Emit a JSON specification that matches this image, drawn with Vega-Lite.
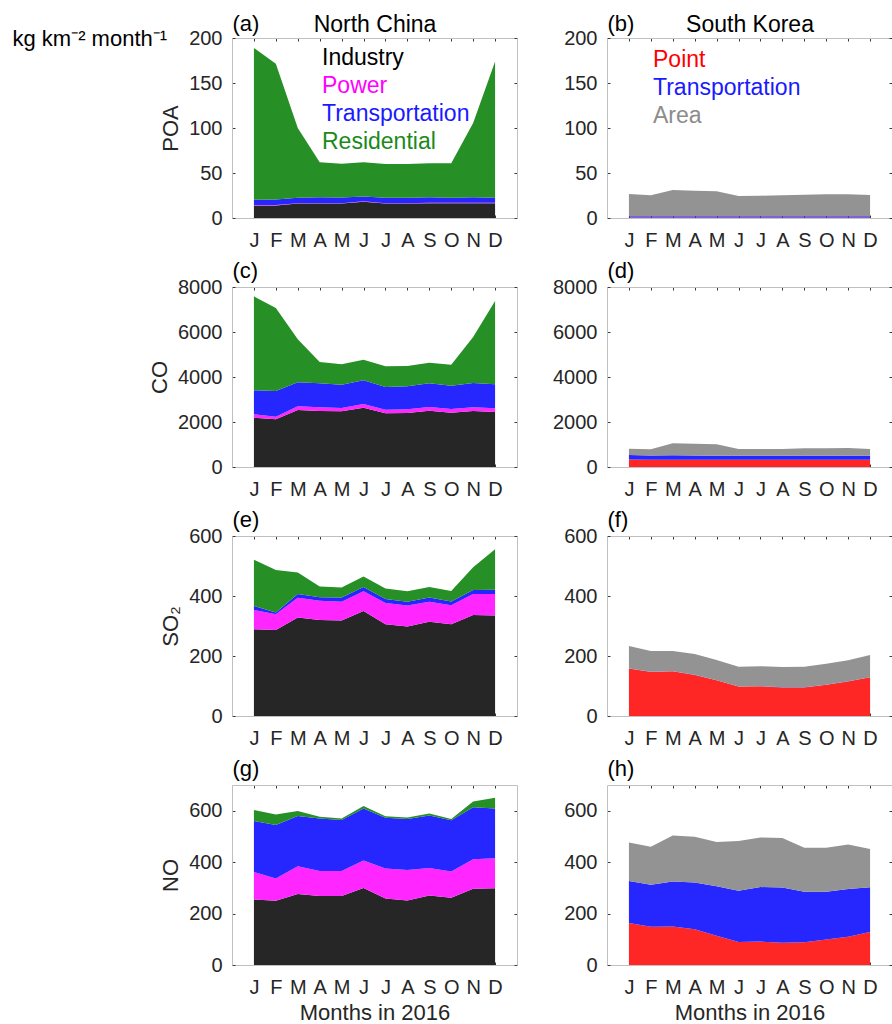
{
"$schema":"https://vega.github.io/schema/vega-lite/v6.json",
"padding":{"left":12,"top":12,"right":0,"bottom":0},
"background":"white",
"columns":2,
"spacing":{"row":69,"column":90},
"bounds":"flush",
"resolve":{"scale":{"x":"independent","y":"independent","color":"independent"},"legend":{"color":"independent"}},
"datasets":{
"ncPOA":[
{"c":"Industry","m":1,"v":14},{"c":"Industry","m":2,"v":14},{"c":"Industry","m":3,"v":16},{"c":"Industry","m":4,"v":16},{"c":"Industry","m":5,"v":16},{"c":"Industry","m":6,"v":18},{"c":"Industry","m":7,"v":16},{"c":"Industry","m":8,"v":16},{"c":"Industry","m":9,"v":16.5},{"c":"Industry","m":10,"v":16.5},{"c":"Industry","m":11,"v":16.5},{"c":"Industry","m":12,"v":16.5},
{"c":"Power","m":1,"v":0.5},{"c":"Power","m":2,"v":0.5},{"c":"Power","m":3,"v":0.5},{"c":"Power","m":4,"v":0.5},{"c":"Power","m":5,"v":0.5},{"c":"Power","m":6,"v":0.5},{"c":"Power","m":7,"v":0.5},{"c":"Power","m":8,"v":0.5},{"c":"Power","m":9,"v":0.5},{"c":"Power","m":10,"v":0.5},{"c":"Power","m":11,"v":0.5},{"c":"Power","m":12,"v":0.5},
{"c":"Transportation","m":1,"v":5.9},{"c":"Transportation","m":2,"v":6},{"c":"Transportation","m":3,"v":6.1},{"c":"Transportation","m":4,"v":6.5},{"c":"Transportation","m":5,"v":6.3},{"c":"Transportation","m":6,"v":5.5},{"c":"Transportation","m":7,"v":6.1},{"c":"Transportation","m":8,"v":6.1},{"c":"Transportation","m":9,"v":6},{"c":"Transportation","m":10,"v":5.6},{"c":"Transportation","m":11,"v":6},{"c":"Transportation","m":12,"v":5.5},
{"c":"Residential","m":1,"v":168.6},{"c":"Residential","m":2,"v":151},{"c":"Residential","m":3,"v":77.4},{"c":"Residential","m":4,"v":39},{"c":"Residential","m":5,"v":37.6},{"c":"Residential","m":6,"v":38},{"c":"Residential","m":7,"v":37.4},{"c":"Residential","m":8,"v":37.4},{"c":"Residential","m":9,"v":37.7},{"c":"Residential","m":10,"v":38.1},{"c":"Residential","m":11,"v":82.5},{"c":"Residential","m":12,"v":151.5}
],
"skPOA":[
{"c":"Point","m":1,"v":0.6},{"c":"Point","m":2,"v":0.6},{"c":"Point","m":3,"v":0.6},{"c":"Point","m":4,"v":0.6},{"c":"Point","m":5,"v":0.6},{"c":"Point","m":6,"v":0.6},{"c":"Point","m":7,"v":0.6},{"c":"Point","m":8,"v":0.6},{"c":"Point","m":9,"v":0.6},{"c":"Point","m":10,"v":0.6},{"c":"Point","m":11,"v":0.6},{"c":"Point","m":12,"v":0.6},
{"c":"Transportation","m":1,"v":1.4},{"c":"Transportation","m":2,"v":1.4},{"c":"Transportation","m":3,"v":1.4},{"c":"Transportation","m":4,"v":1.4},{"c":"Transportation","m":5,"v":1.4},{"c":"Transportation","m":6,"v":1.4},{"c":"Transportation","m":7,"v":1.4},{"c":"Transportation","m":8,"v":1.4},{"c":"Transportation","m":9,"v":1.4},{"c":"Transportation","m":10,"v":1.4},{"c":"Transportation","m":11,"v":1.4},{"c":"Transportation","m":12,"v":1.4},
{"c":"Area","m":1,"v":24.7},{"c":"Area","m":2,"v":23.2},{"c":"Area","m":3,"v":29.1},{"c":"Area","m":4,"v":28.4},{"c":"Area","m":5,"v":27.6},{"c":"Area","m":6,"v":22.4},{"c":"Area","m":7,"v":22.8},{"c":"Area","m":8,"v":23.2},{"c":"Area","m":9,"v":23.9},{"c":"Area","m":10,"v":24.3},{"c":"Area","m":11,"v":24.3},{"c":"Area","m":12,"v":23.6}
],
"ncCO":[
{"c":"Industry","m":1,"v":2193},{"c":"Industry","m":2,"v":2119},{"c":"Industry","m":3,"v":2533},{"c":"Industry","m":4,"v":2489},{"c":"Industry","m":5,"v":2474},{"c":"Industry","m":6,"v":2637},{"c":"Industry","m":7,"v":2385},{"c":"Industry","m":8,"v":2400},{"c":"Industry","m":9,"v":2504},{"c":"Industry","m":10,"v":2415},{"c":"Industry","m":11,"v":2489},{"c":"Industry","m":12,"v":2444},
{"c":"Power","m":1,"v":148},{"c":"Power","m":2,"v":110},{"c":"Power","m":3,"v":163},{"c":"Power","m":4,"v":163},{"c":"Power","m":5,"v":148},{"c":"Power","m":6,"v":163},{"c":"Power","m":7,"v":163},{"c":"Power","m":8,"v":163},{"c":"Power","m":9,"v":163},{"c":"Power","m":10,"v":163},{"c":"Power","m":11,"v":163},{"c":"Power","m":12,"v":163},
{"c":"Transportation","m":1,"v":1066},{"c":"Transportation","m":2,"v":1149},{"c":"Transportation","m":3,"v":1067},{"c":"Transportation","m":4,"v":1067},{"c":"Transportation","m":5,"v":1037},{"c":"Transportation","m":6,"v":1052},{"c":"Transportation","m":7,"v":1008},{"c":"Transportation","m":8,"v":1022},{"c":"Transportation","m":9,"v":1052},{"c":"Transportation","m":10,"v":1037},{"c":"Transportation","m":11,"v":1081},{"c":"Transportation","m":12,"v":1067},
{"c":"Residential","m":1,"v":4178},{"c":"Residential","m":2,"v":3689},{"c":"Residential","m":3,"v":1911},{"c":"Residential","m":4,"v":948},{"c":"Residential","m":5,"v":904},{"c":"Residential","m":6,"v":918},{"c":"Residential","m":7,"v":918},{"c":"Residential","m":8,"v":904},{"c":"Residential","m":9,"v":918},{"c":"Residential","m":10,"v":933},{"c":"Residential","m":11,"v":2045},{"c":"Residential","m":12,"v":3704}
],
"skCO":[
{"c":"Point","m":1,"v":330},{"c":"Point","m":2,"v":325},{"c":"Point","m":3,"v":325},{"c":"Point","m":4,"v":320},{"c":"Point","m":5,"v":320},{"c":"Point","m":6,"v":320},{"c":"Point","m":7,"v":320},{"c":"Point","m":8,"v":320},{"c":"Point","m":9,"v":320},{"c":"Point","m":10,"v":320},{"c":"Point","m":11,"v":320},{"c":"Point","m":12,"v":320},
{"c":"Transportation","m":1,"v":200},{"c":"Transportation","m":2,"v":190},{"c":"Transportation","m":3,"v":195},{"c":"Transportation","m":4,"v":190},{"c":"Transportation","m":5,"v":185},{"c":"Transportation","m":6,"v":180},{"c":"Transportation","m":7,"v":180},{"c":"Transportation","m":8,"v":180},{"c":"Transportation","m":9,"v":180},{"c":"Transportation","m":10,"v":180},{"c":"Transportation","m":11,"v":180},{"c":"Transportation","m":12,"v":180},
{"c":"Area","m":1,"v":285},{"c":"Area","m":2,"v":270},{"c":"Area","m":3,"v":532},{"c":"Area","m":4,"v":527},{"c":"Area","m":5,"v":502},{"c":"Area","m":6,"v":300},{"c":"Area","m":7,"v":300},{"c":"Area","m":8,"v":300},{"c":"Area","m":9,"v":330},{"c":"Area","m":10,"v":330},{"c":"Area","m":11,"v":344},{"c":"Area","m":12,"v":300}
],
"ncSO2":[
{"c":"Industry","m":1,"v":289},{"c":"Industry","m":2,"v":287},{"c":"Industry","m":3,"v":328},{"c":"Industry","m":4,"v":320},{"c":"Industry","m":5,"v":318},{"c":"Industry","m":6,"v":350},{"c":"Industry","m":7,"v":306},{"c":"Industry","m":8,"v":298},{"c":"Industry","m":9,"v":314},{"c":"Industry","m":10,"v":306},{"c":"Industry","m":11,"v":337},{"c":"Industry","m":12,"v":335},
{"c":"Power","m":1,"v":64},{"c":"Power","m":2,"v":52},{"c":"Power","m":3,"v":66},{"c":"Power","m":4,"v":64},{"c":"Power","m":5,"v":63},{"c":"Power","m":6,"v":66},{"c":"Power","m":7,"v":71},{"c":"Power","m":8,"v":70},{"c":"Power","m":9,"v":67},{"c":"Power","m":10,"v":63},{"c":"Power","m":11,"v":70},{"c":"Power","m":12,"v":72},
{"c":"Transportation","m":1,"v":14},{"c":"Transportation","m":2,"v":6},{"c":"Transportation","m":3,"v":13},{"c":"Transportation","m":4,"v":12},{"c":"Transportation","m":5,"v":14},{"c":"Transportation","m":6,"v":14},{"c":"Transportation","m":7,"v":13},{"c":"Transportation","m":8,"v":13},{"c":"Transportation","m":9,"v":14},{"c":"Transportation","m":10,"v":13},{"c":"Transportation","m":11,"v":13},{"c":"Transportation","m":12,"v":14},
{"c":"Residential","m":1,"v":154},{"c":"Residential","m":2,"v":142},{"c":"Residential","m":3,"v":71},{"c":"Residential","m":4,"v":36},{"c":"Residential","m":5,"v":33},{"c":"Residential","m":6,"v":35},{"c":"Residential","m":7,"v":35},{"c":"Residential","m":8,"v":35},{"c":"Residential","m":9,"v":35},{"c":"Residential","m":10,"v":35},{"c":"Residential","m":11,"v":76},{"c":"Residential","m":12,"v":135}
],
"skSO2":[
{"c":"Point","m":1,"v":158},{"c":"Point","m":2,"v":147},{"c":"Point","m":3,"v":149},{"c":"Point","m":4,"v":137},{"c":"Point","m":5,"v":119},{"c":"Point","m":6,"v":98},{"c":"Point","m":7,"v":99},{"c":"Point","m":8,"v":95},{"c":"Point","m":9,"v":95},{"c":"Point","m":10,"v":104},{"c":"Point","m":11,"v":115},{"c":"Point","m":12,"v":129},
{"c":"Transportation","m":1,"v":0.5},{"c":"Transportation","m":2,"v":0.5},{"c":"Transportation","m":3,"v":0.5},{"c":"Transportation","m":4,"v":0.5},{"c":"Transportation","m":5,"v":0.5},{"c":"Transportation","m":6,"v":0.5},{"c":"Transportation","m":7,"v":0.5},{"c":"Transportation","m":8,"v":0.5},{"c":"Transportation","m":9,"v":0.5},{"c":"Transportation","m":10,"v":0.5},{"c":"Transportation","m":11,"v":0.5},{"c":"Transportation","m":12,"v":0.5},
{"c":"Area","m":1,"v":74.5},{"c":"Area","m":2,"v":69.5},{"c":"Area","m":3,"v":67.5},{"c":"Area","m":4,"v":69.5},{"c":"Area","m":5,"v":67.5},{"c":"Area","m":6,"v":65.5},{"c":"Area","m":7,"v":66.5},{"c":"Area","m":8,"v":67.5},{"c":"Area","m":9,"v":68.5},{"c":"Area","m":10,"v":69.5},{"c":"Area","m":11,"v":70.5},{"c":"Area","m":12,"v":73.5}
],
"ncNO":[
{"c":"Industry","m":1,"v":255},{"c":"Industry","m":2,"v":250},{"c":"Industry","m":3,"v":276},{"c":"Industry","m":4,"v":268},{"c":"Industry","m":5,"v":268},{"c":"Industry","m":6,"v":299},{"c":"Industry","m":7,"v":259},{"c":"Industry","m":8,"v":251},{"c":"Industry","m":9,"v":270},{"c":"Industry","m":10,"v":262},{"c":"Industry","m":11,"v":297},{"c":"Industry","m":12,"v":298},
{"c":"Power","m":1,"v":107},{"c":"Power","m":2,"v":86},{"c":"Power","m":3,"v":108},{"c":"Power","m":4,"v":98},{"c":"Power","m":5,"v":98},{"c":"Power","m":6,"v":107},{"c":"Power","m":7,"v":116},{"c":"Power","m":8,"v":118},{"c":"Power","m":9,"v":107},{"c":"Power","m":10,"v":102},{"c":"Power","m":11,"v":114},{"c":"Power","m":12,"v":117},
{"c":"Transportation","m":1,"v":198},{"c":"Transportation","m":2,"v":208},{"c":"Transportation","m":3,"v":195},{"c":"Transportation","m":4,"v":204},{"c":"Transportation","m":5,"v":198},{"c":"Transportation","m":6,"v":203},{"c":"Transportation","m":7,"v":198},{"c":"Transportation","m":8,"v":199},{"c":"Transportation","m":9,"v":204},{"c":"Transportation","m":10,"v":199},{"c":"Transportation","m":11,"v":202},{"c":"Transportation","m":12,"v":194},
{"c":"Residential","m":1,"v":43},{"c":"Residential","m":2,"v":41},{"c":"Residential","m":3,"v":20},{"c":"Residential","m":4,"v":7},{"c":"Residential","m":5,"v":6},{"c":"Residential","m":6,"v":9},{"c":"Residential","m":7,"v":5},{"c":"Residential","m":8,"v":6},{"c":"Residential","m":9,"v":8},{"c":"Residential","m":10,"v":5},{"c":"Residential","m":11,"v":23},{"c":"Residential","m":12,"v":41}
],
"skNO":[
{"c":"Point","m":1,"v":163},{"c":"Point","m":2,"v":149},{"c":"Point","m":3,"v":150},{"c":"Point","m":4,"v":139},{"c":"Point","m":5,"v":114},{"c":"Point","m":6,"v":89},{"c":"Point","m":7,"v":91},{"c":"Point","m":8,"v":87},{"c":"Point","m":9,"v":88},{"c":"Point","m":10,"v":99},{"c":"Point","m":11,"v":110},{"c":"Point","m":12,"v":128},
{"c":"Transportation","m":1,"v":164},{"c":"Transportation","m":2,"v":163},{"c":"Transportation","m":3,"v":175},{"c":"Transportation","m":4,"v":182},{"c":"Transportation","m":5,"v":192},{"c":"Transportation","m":6,"v":200},{"c":"Transportation","m":7,"v":212},{"c":"Transportation","m":8,"v":214},{"c":"Transportation","m":9,"v":197},{"c":"Transportation","m":10,"v":186},{"c":"Transportation","m":11,"v":186},{"c":"Transportation","m":12,"v":174},
{"c":"Area","m":1,"v":149},{"c":"Area","m":2,"v":148},{"c":"Area","m":3,"v":179},{"c":"Area","m":4,"v":178},{"c":"Area","m":5,"v":172},{"c":"Area","m":6,"v":193},{"c":"Area","m":7,"v":193},{"c":"Area","m":8,"v":193},{"c":"Area","m":9,"v":171},{"c":"Area","m":10,"v":171},{"c":"Area","m":11,"v":173},{"c":"Area","m":12,"v":149}
]
},
"concat":[
{"width":285,"height":180,"data":{"name":"ncPOA"},
 "transform":[{"calculate":"indexof(['Industry','Power','Transportation','Residential'],datum.c)","as":"o"}],
 "layer":[
  {"mark":{"type":"area","interpolate":"linear"},
   "encoding":{
    "x":{"field":"m","type":"quantitative","scale":{"domain":[0,13],"nice":false,"zero":false},"axis":{"values":[1,2,3,4,5,6,7,8,9,10,11,12],"labelExpr":"['J','F','M','A','M','J','J','A','S','O','N','D'][datum.value-1]","title":"kg km⁻² month⁻¹","titleX":-220,"titleY":-173,"titleAlign":"left","titleBaseline":"alphabetic","titleColor":"#000000","titleFontSize":22}},
    "y":{"field":"v","type":"quantitative","stack":"zero","scale":{"domain":[0,200],"nice":false},"axis":{"values":[0,50,100,150,200],"title":"POA"}},
    "color":{"field":"c","type":"nominal","scale":{"domain":["Industry","Power","Transportation","Residential"],"range":["#262626","#ff26ff","#2626ff","#268f26"]},
      "legend":{"orient":"none","legendX":67,"legendY":8,"title":null,"labelColor":{"expr":"datum.value==='Industry'?'#000000':datum.value==='Power'?'#ff00ff':datum.value==='Transportation'?'#1a1aff':'#1a8a1a'"}}},
    "order":{"field":"o","type":"quantitative","sort":"ascending"}}},
  {"mark":{"type":"point","opacity":0},
   "encoding":{
    "x":{"field":"m","type":"quantitative","scale":{"domain":[0,13],"nice":false,"zero":false},"axis":{"orient":"top","values":[1,2,3,4,5,6,7,8,9,10,11,12],"labels":false,"title":"North China","titleX":142.5,"titleY":-7,"titleAlign":"center","titleBaseline":"alphabetic","titleColor":"#000000","titleFontSize":23}},
    "y":{"field":"v","type":"quantitative","scale":{"domain":[0,200],"nice":false},"axis":{"orient":"right","values":[0,50,100,150,200],"labels":false,"title":"(a)","titleAngle":0,"titleX":-285,"titleY":-8,"titleAlign":"left","titleBaseline":"alphabetic","titleColor":"#000000"}}}}
 ],
 "resolve":{"axis":{"x":"independent","y":"independent"}}},
{"width":285,"height":180,"data":{"name":"skPOA"},
 "transform":[{"calculate":"indexof(['Point','Transportation','Area'],datum.c)","as":"o"}],
 "layer":[
  {"mark":{"type":"area","interpolate":"linear"},
   "encoding":{
    "x":{"field":"m","type":"quantitative","scale":{"domain":[0,13],"nice":false,"zero":false},"axis":{"values":[1,2,3,4,5,6,7,8,9,10,11,12],"labelExpr":"['J','F','M','A','M','J','J','A','S','O','N','D'][datum.value-1]","title":null}},
    "y":{"field":"v","type":"quantitative","stack":"zero","scale":{"domain":[0,200],"nice":false},"axis":{"values":[0,50,100,150,200],"title":null}},
    "color":{"field":"c","type":"nominal","scale":{"domain":["Point","Transportation","Area"],"range":["#ff2626","#2626ff","#939393"]},
      "legend":{"orient":"none","legendX":23,"legendY":10,"title":null,"labelColor":{"expr":"datum.value==='Point'?'#ff0000':datum.value==='Transportation'?'#1a1aff':'#8c8c8c'"}}},
    "order":{"field":"o","type":"quantitative","sort":"ascending"}}},
  {"mark":{"type":"point","opacity":0},
   "encoding":{
    "x":{"field":"m","type":"quantitative","scale":{"domain":[0,13],"nice":false,"zero":false},"axis":{"orient":"top","values":[1,2,3,4,5,6,7,8,9,10,11,12],"labels":false,"title":"South Korea","titleX":142.5,"titleY":-7,"titleAlign":"center","titleBaseline":"alphabetic","titleColor":"#000000","titleFontSize":23}},
    "y":{"field":"v","type":"quantitative","scale":{"domain":[0,200],"nice":false},"axis":{"orient":"right","values":[0,50,100,150,200],"labels":false,"title":"(b)","titleAngle":0,"titleX":-285,"titleY":-8,"titleAlign":"left","titleBaseline":"alphabetic","titleColor":"#000000"}}}}
 ],
 "resolve":{"axis":{"x":"independent","y":"independent"}}},
{"width":285,"height":180,"data":{"name":"ncCO"},
 "transform":[{"calculate":"indexof(['Industry','Power','Transportation','Residential'],datum.c)","as":"o"}],
 "layer":[
  {"mark":{"type":"area","interpolate":"linear"},
   "encoding":{
    "x":{"field":"m","type":"quantitative","scale":{"domain":[0,13],"nice":false,"zero":false},"axis":{"values":[1,2,3,4,5,6,7,8,9,10,11,12],"labelExpr":"['J','F','M','A','M','J','J','A','S','O','N','D'][datum.value-1]","title":null}},
    "y":{"field":"v","type":"quantitative","stack":"zero","scale":{"domain":[0,8000],"nice":false},"axis":{"values":[0,2000,4000,6000,8000],"format":"d","title":"CO"}},
    "color":{"field":"c","type":"nominal","scale":{"domain":["Industry","Power","Transportation","Residential"],"range":["#262626","#ff26ff","#2626ff","#268f26"]},"legend":null},
    "order":{"field":"o","type":"quantitative","sort":"ascending"}}},
  {"mark":{"type":"point","opacity":0},
   "encoding":{
    "x":{"field":"m","type":"quantitative","scale":{"domain":[0,13],"nice":false,"zero":false},"axis":{"orient":"top","values":[1,2,3,4,5,6,7,8,9,10,11,12],"labels":false,"title":null}},
    "y":{"field":"v","type":"quantitative","scale":{"domain":[0,8000],"nice":false},"axis":{"orient":"right","values":[0,2000,4000,6000,8000],"labels":false,"title":"(c)","titleAngle":0,"titleX":-285,"titleY":-10,"titleAlign":"left","titleBaseline":"alphabetic","titleColor":"#000000"}}}}
 ],
 "resolve":{"axis":{"x":"independent","y":"independent"}}},
{"width":285,"height":180,"data":{"name":"skCO"},
 "transform":[{"calculate":"indexof(['Point','Transportation','Area'],datum.c)","as":"o"}],
 "layer":[
  {"mark":{"type":"area","interpolate":"linear"},
   "encoding":{
    "x":{"field":"m","type":"quantitative","scale":{"domain":[0,13],"nice":false,"zero":false},"axis":{"values":[1,2,3,4,5,6,7,8,9,10,11,12],"labelExpr":"['J','F','M','A','M','J','J','A','S','O','N','D'][datum.value-1]","title":null}},
    "y":{"field":"v","type":"quantitative","stack":"zero","scale":{"domain":[0,8000],"nice":false},"axis":{"values":[0,2000,4000,6000,8000],"format":"d","title":null}},
    "color":{"field":"c","type":"nominal","scale":{"domain":["Point","Transportation","Area"],"range":["#ff2626","#2626ff","#939393"]},"legend":null},
    "order":{"field":"o","type":"quantitative","sort":"ascending"}}},
  {"mark":{"type":"point","opacity":0},
   "encoding":{
    "x":{"field":"m","type":"quantitative","scale":{"domain":[0,13],"nice":false,"zero":false},"axis":{"orient":"top","values":[1,2,3,4,5,6,7,8,9,10,11,12],"labels":false,"title":null}},
    "y":{"field":"v","type":"quantitative","scale":{"domain":[0,8000],"nice":false},"axis":{"orient":"right","values":[0,2000,4000,6000,8000],"labels":false,"title":"(d)","titleAngle":0,"titleX":-285,"titleY":-10,"titleAlign":"left","titleBaseline":"alphabetic","titleColor":"#000000"}}}}
 ],
 "resolve":{"axis":{"x":"independent","y":"independent"}}},
{"width":285,"height":180,"data":{"name":"ncSO2"},
 "transform":[{"calculate":"indexof(['Industry','Power','Transportation','Residential'],datum.c)","as":"o"}],
 "layer":[
  {"mark":{"type":"area","interpolate":"linear"},
   "encoding":{
    "x":{"field":"m","type":"quantitative","scale":{"domain":[0,13],"nice":false,"zero":false},"axis":{"values":[1,2,3,4,5,6,7,8,9,10,11,12],"labelExpr":"['J','F','M','A','M','J','J','A','S','O','N','D'][datum.value-1]","title":null}},
    "y":{"field":"v","type":"quantitative","stack":"zero","scale":{"domain":[0,600],"nice":false},"axis":{"values":[0,200,400,600],"title":"SO₂"}},
    "color":{"field":"c","type":"nominal","scale":{"domain":["Industry","Power","Transportation","Residential"],"range":["#262626","#ff26ff","#2626ff","#268f26"]},"legend":null},
    "order":{"field":"o","type":"quantitative","sort":"ascending"}}},
  {"mark":{"type":"point","opacity":0},
   "encoding":{
    "x":{"field":"m","type":"quantitative","scale":{"domain":[0,13],"nice":false,"zero":false},"axis":{"orient":"top","values":[1,2,3,4,5,6,7,8,9,10,11,12],"labels":false,"title":null}},
    "y":{"field":"v","type":"quantitative","scale":{"domain":[0,600],"nice":false},"axis":{"orient":"right","values":[0,200,400,600],"labels":false,"title":"(e)","titleAngle":0,"titleX":-285,"titleY":-10,"titleAlign":"left","titleBaseline":"alphabetic","titleColor":"#000000"}}}}
 ],
 "resolve":{"axis":{"x":"independent","y":"independent"}}},
{"width":285,"height":180,"data":{"name":"skSO2"},
 "transform":[{"calculate":"indexof(['Point','Transportation','Area'],datum.c)","as":"o"}],
 "layer":[
  {"mark":{"type":"area","interpolate":"linear"},
   "encoding":{
    "x":{"field":"m","type":"quantitative","scale":{"domain":[0,13],"nice":false,"zero":false},"axis":{"values":[1,2,3,4,5,6,7,8,9,10,11,12],"labelExpr":"['J','F','M','A','M','J','J','A','S','O','N','D'][datum.value-1]","title":null}},
    "y":{"field":"v","type":"quantitative","stack":"zero","scale":{"domain":[0,600],"nice":false},"axis":{"values":[0,200,400,600],"title":null}},
    "color":{"field":"c","type":"nominal","scale":{"domain":["Point","Transportation","Area"],"range":["#ff2626","#2626ff","#939393"]},"legend":null},
    "order":{"field":"o","type":"quantitative","sort":"ascending"}}},
  {"mark":{"type":"point","opacity":0},
   "encoding":{
    "x":{"field":"m","type":"quantitative","scale":{"domain":[0,13],"nice":false,"zero":false},"axis":{"orient":"top","values":[1,2,3,4,5,6,7,8,9,10,11,12],"labels":false,"title":null}},
    "y":{"field":"v","type":"quantitative","scale":{"domain":[0,600],"nice":false},"axis":{"orient":"right","values":[0,200,400,600],"labels":false,"title":"(f)","titleAngle":0,"titleX":-285,"titleY":-10,"titleAlign":"left","titleBaseline":"alphabetic","titleColor":"#000000"}}}}
 ],
 "resolve":{"axis":{"x":"independent","y":"independent"}}},
{"width":285,"height":180,"data":{"name":"ncNO"},
 "transform":[{"calculate":"indexof(['Industry','Power','Transportation','Residential'],datum.c)","as":"o"}],
 "layer":[
  {"mark":{"type":"area","interpolate":"linear"},
   "encoding":{
    "x":{"field":"m","type":"quantitative","scale":{"domain":[0,13],"nice":false,"zero":false},"axis":{"values":[1,2,3,4,5,6,7,8,9,10,11,12],"labelExpr":"['J','F','M','A','M','J','J','A','S','O','N','D'][datum.value-1]","title":"Months in 2016","titlePadding":5}},
    "y":{"field":"v","type":"quantitative","stack":"zero","scale":{"domain":[0,700],"nice":false},"axis":{"values":[0,200,400,600],"title":"NO"}},
    "color":{"field":"c","type":"nominal","scale":{"domain":["Industry","Power","Transportation","Residential"],"range":["#262626","#ff26ff","#2626ff","#268f26"]},"legend":null},
    "order":{"field":"o","type":"quantitative","sort":"ascending"}}},
  {"mark":{"type":"point","opacity":0},
   "encoding":{
    "x":{"field":"m","type":"quantitative","scale":{"domain":[0,13],"nice":false,"zero":false},"axis":{"orient":"top","values":[1,2,3,4,5,6,7,8,9,10,11,12],"labels":false,"title":null}},
    "y":{"field":"v","type":"quantitative","scale":{"domain":[0,700],"nice":false},"axis":{"orient":"right","values":[0,200,400,600],"labels":false,"title":"(g)","titleAngle":0,"titleX":-285,"titleY":-10,"titleAlign":"left","titleBaseline":"alphabetic","titleColor":"#000000"}}}}
 ],
 "resolve":{"axis":{"x":"independent","y":"independent"}}},
{"width":285,"height":180,"data":{"name":"skNO"},
 "transform":[{"calculate":"indexof(['Point','Transportation','Area'],datum.c)","as":"o"}],
 "layer":[
  {"mark":{"type":"area","interpolate":"linear"},
   "encoding":{
    "x":{"field":"m","type":"quantitative","scale":{"domain":[0,13],"nice":false,"zero":false},"axis":{"values":[1,2,3,4,5,6,7,8,9,10,11,12],"labelExpr":"['J','F','M','A','M','J','J','A','S','O','N','D'][datum.value-1]","title":"Months in 2016","titlePadding":5}},
    "y":{"field":"v","type":"quantitative","stack":"zero","scale":{"domain":[0,700],"nice":false},"axis":{"values":[0,200,400,600],"title":null}},
    "color":{"field":"c","type":"nominal","scale":{"domain":["Point","Transportation","Area"],"range":["#ff2626","#2626ff","#939393"]},"legend":null},
    "order":{"field":"o","type":"quantitative","sort":"ascending"}}},
  {"mark":{"type":"point","opacity":0},
   "encoding":{
    "x":{"field":"m","type":"quantitative","scale":{"domain":[0,13],"nice":false,"zero":false},"axis":{"orient":"top","values":[1,2,3,4,5,6,7,8,9,10,11,12],"labels":false,"title":null}},
    "y":{"field":"v","type":"quantitative","scale":{"domain":[0,700],"nice":false},"axis":{"orient":"right","values":[0,200,400,600],"labels":false,"title":"(h)","titleAngle":0,"titleX":-285,"titleY":-10,"titleAlign":"left","titleBaseline":"alphabetic","titleColor":"#000000"}}}}
 ],
 "resolve":{"axis":{"x":"independent","y":"independent"}}}
],
"config":{
 "font":"Liberation Sans",
 "view":{"stroke":null},
 "axis":{"domainColor":"#c0c0c0","domainWidth":1,"tickColor":"#3a3a3a","tickSize":-3,"tickWidth":1,"labelFontSize":20,"labelColor":"#262626","labelFont":"Liberation Sans","titleFont":"Liberation Sans","titleFontSize":22,"titleFontWeight":"normal","titleColor":"#262626","grid":false,"labelPadding":13,"labelFlush":false,"labelOverlap":false,"titlePadding":6},
 "axisX":{"labelPadding":15},
 "legend":{"symbolSize":0,"symbolOpacity":0,"symbolStrokeWidth":0,"labelOffset":0,"labelFontSize":23,"labelFont":"Liberation Sans","rowPadding":4,"padding":0}
}
}
